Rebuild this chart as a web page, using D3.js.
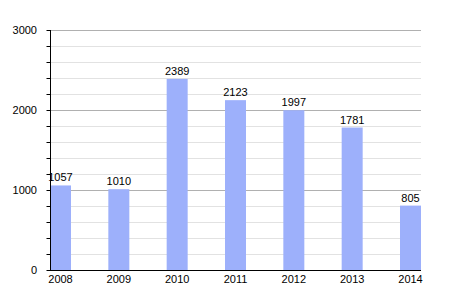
<!DOCTYPE html>
<html><head><meta charset="utf-8">
<script src="https://cdn.jsdelivr.net/npm/d3@7"></script>
<style>body{margin:0;background:#fff}svg{display:block}text{font-family:"Liberation Sans",Arial,sans-serif}</style>
</head><body>
<svg id="c" width="450" height="300"></svg>
<script>
const years = ["2008","2009","2010","2011","2012","2013","2014"];
const values = [1057,1010,2389,2123,1997,1781,805];
const majorTicks = [0,1000,2000,3000];
const minorTicks = d3.range(0,3001,200);

(function(){
const svg = d3.select("#c");
const mLeft=50, mRight=421, mTop=30, mBottom=270;
const x = d3.scaleBand().domain(years).range([mLeft,mRight]).paddingInner(0.64).paddingOuter(0);
const y = d3.scaleLinear().domain([0,3000]).range([mBottom,mTop]);

// minor gridlines
svg.append("g").selectAll("line").data(minorTicks.filter(v=>v%1000!==0)).join("line")
  .attr("x1",mLeft).attr("x2",mRight).attr("y1",d=>y(d)+0.5).attr("y2",d=>y(d)+0.5)
  .attr("stroke","#e2e2e2").attr("stroke-width",1);
// major gridlines
svg.append("g").selectAll("line").data(majorTicks.filter(v=>v>0)).join("line")
  .attr("x1",mLeft).attr("x2",mRight).attr("y1",d=>y(d)+0.5).attr("y2",d=>y(d)+0.5)
  .attr("stroke","#b0b0b0").attr("stroke-width",1);

// bars
svg.append("g").selectAll("rect").data(values).join("rect")
  .attr("x",(d,i)=>x(years[i])).attr("width",x.bandwidth())
  .attr("y",d=>y(d)).attr("height",d=>mBottom-y(d))
  .attr("fill","#9db0fb");

// value labels
svg.append("g").selectAll("text").data(values).join("text")
  .attr("x",(d,i)=>x(years[i])+x.bandwidth()/2).attr("y",d=>y(d)-4)
  .attr("text-anchor","middle").attr("font-size",11).attr("fill","#000")
  .text(d=>d);

// y axis
const yAxis = d3.axisLeft(y).tickValues(minorTicks).tickSize(4).tickFormat("");
const gy = svg.append("g").attr("transform",`translate(${mLeft+0.5},0)`).call(yAxis);
gy.selectAll("path,line").attr("stroke","#000");
gy.select(".domain").attr("d",`M0,${mTop}V${mBottom}`);
svg.append("g").selectAll("text").data(majorTicks).join("text")
  .attr("x",37).attr("y",d=>y(d)+4).attr("text-anchor","end")
  .attr("font-size",11).attr("fill","#000").text(d=>d);

// x axis
const xAxis = d3.axisBottom(x).tickSize(0).tickPadding(5);
const gx = svg.append("g").attr("transform",`translate(0,${mBottom+0.5})`).call(xAxis);
gx.select(".domain").attr("stroke","#000").attr("d",`M${mLeft},0H${mRight}`);
gx.selectAll("text").attr("font-size",11).attr("fill","#000").attr("font-family","Liberation Sans, Arial, sans-serif");
})();
</script>
</body></html>
